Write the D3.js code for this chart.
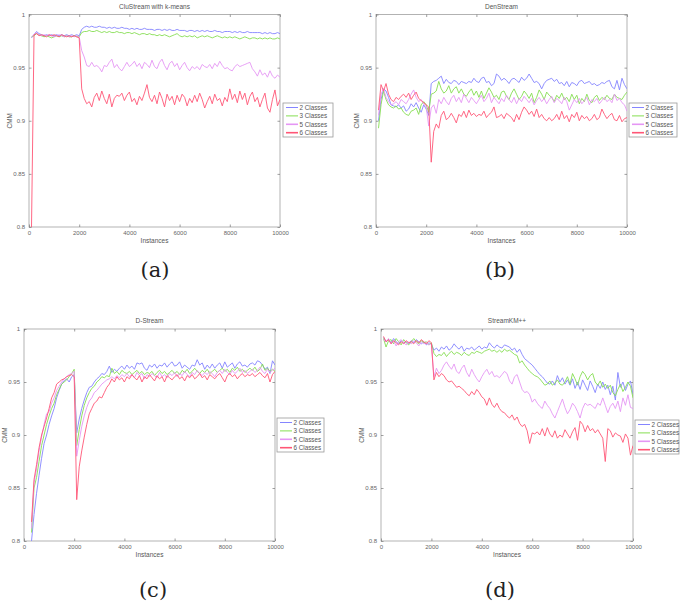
<!DOCTYPE html>
<html><head><meta charset="utf-8">
<script src="https://cdn.jsdelivr.net/npm/d3@7"></script>
<style>
html,body{margin:0;padding:0;background:#fff;}
svg{display:block;}
</style></head>
<body>
<svg id="chart" width="685" height="602"></svg>
<script>
// ---------- DATA ----------
const seriesNames = ["2 Classes", "3 Classes", "5 Classes", "6 Classes"];
const xTicks = [0, 2000, 4000, 6000, 8000, 10000];
const yTicks = [0.8, 0.85, 0.9, 0.95, 1];
const yTickLabels = ["0.8", "0.85", "0.9", "0.95", "1"];
const panelTitles = ["CluStream with k-means", "DenStream", "D-Stream", "StreamKM++"];
const panelCaptions = ["(a)", "(b)", "(c)", "(d)"];
const panelStart = [100, 100, 300, 100]; // first instance of each panel's series
const step = 100;

// (a) CluStream with k-means
const a2 = [0.978,0.981,0.984,0.982,0.981,0.980,0.981,0.980,0.981,0.980,
 0.981,0.980,0.981,0.980,0.981,0.980,0.981,0.980,0.981,0.980,
 0.986,0.988,0.989,0.988,0.989,0.988,0.988,0.989,0.988,0.988,
 0.987,0.988,0.987,0.988,0.987,0.987,0.988,0.987,0.987,0.986,
 0.987,0.986,0.987,0.986,0.986,0.987,0.986,0.986,0.986,0.985,
 0.986,0.986,0.985,0.986,0.985,0.986,0.985,0.985,0.986,0.985,
 0.985,0.985,0.984,0.985,0.985,0.984,0.985,0.984,0.985,0.984,
 0.985,0.984,0.984,0.985,0.984,0.984,0.983,0.984,0.984,0.984,
 0.983,0.984,0.983,0.984,0.983,0.983,0.984,0.983,0.983,0.983,
 0.983,0.983,0.982,0.983,0.982,0.983,0.982,0.982,0.983,0.982];
const a3 = [0.979,0.980,0.982,0.981,0.980,0.979,0.980,0.979,0.978,0.979,
 0.980,0.979,0.980,0.979,0.980,0.979,0.979,0.980,0.979,0.979,
 0.983,0.984,0.984,0.985,0.984,0.984,0.985,0.984,0.983,0.984,
 0.983,0.984,0.983,0.983,0.984,0.983,0.983,0.982,0.983,0.983,
 0.982,0.983,0.982,0.981,0.982,0.982,0.981,0.982,0.981,0.981,
 0.980,0.981,0.980,0.981,0.980,0.979,0.980,0.981,0.982,0.980,
 0.979,0.980,0.979,0.980,0.979,0.980,0.978,0.979,0.980,0.979,
 0.980,0.979,0.978,0.979,0.980,0.979,0.978,0.979,0.978,0.979,
 0.978,0.979,0.978,0.977,0.978,0.979,0.978,0.977,0.978,0.978,
 0.977,0.978,0.977,0.978,0.977,0.978,0.977,0.977,0.978,0.977];
const a5 = [0.979,0.981,0.983,0.981,0.980,0.981,0.980,0.981,0.980,0.979,
 0.980,0.981,0.980,0.979,0.980,0.979,0.980,0.979,0.980,0.979,
 0.966,0.960,0.952,0.951,0.955,0.951,0.952,0.950,0.946,0.952,
 0.951,0.955,0.958,0.950,0.953,0.949,0.947,0.951,0.955,0.951,
 0.953,0.956,0.951,0.954,0.949,0.955,0.953,0.950,0.957,0.951,
 0.949,0.955,0.958,0.952,0.948,0.954,0.956,0.951,0.954,0.948,
 0.952,0.955,0.950,0.947,0.951,0.949,0.951,0.948,0.953,0.951,
 0.950,0.953,0.949,0.954,0.951,0.956,0.952,0.949,0.950,0.948,
 0.947,0.951,0.953,0.951,0.952,0.953,0.954,0.955,0.949,0.946,
 0.942,0.948,0.943,0.945,0.941,0.947,0.942,0.940,0.943,0.941];
const a6 = [0.800,0.981,0.982,0.980,0.981,0.980,0.979,0.981,0.980,0.981,
 0.980,0.979,0.981,0.980,0.979,0.980,0.979,0.980,0.979,0.978,
 0.930,0.921,0.916,0.918,0.913,0.922,0.926,0.919,0.928,0.921,
 0.916,0.925,0.913,0.921,0.924,0.923,0.926,0.919,0.924,0.927,
 0.918,0.921,0.915,0.923,0.919,0.926,0.934,0.922,0.918,0.924,
 0.916,0.927,0.921,0.913,0.925,0.919,0.923,0.915,0.924,0.918,
 0.925,0.922,0.914,0.921,0.917,0.924,0.918,0.926,0.920,0.912,
 0.918,0.923,0.916,0.925,0.919,0.921,0.914,0.922,0.918,0.930,
 0.920,0.925,0.917,0.928,0.920,0.926,0.915,0.923,0.927,0.918,
 0.922,0.913,0.920,0.926,0.912,0.908,0.920,0.929,0.914,0.920];

// (b) DenStream
const b2 = [0.900,0.920,0.930,0.928,0.922,0.915,0.914,0.913,0.915,0.912,
 0.914,0.909,0.911,0.916,0.913,0.917,0.912,0.908,0.915,0.911,
 0.905,0.935,0.937,0.938,0.940,0.942,0.935,0.939,0.936,0.935,
 0.938,0.937,0.934,0.937,0.936,0.935,0.937,0.936,0.940,0.937,
 0.936,0.940,0.941,0.936,0.937,0.933,0.935,0.944,0.942,0.938,
 0.940,0.938,0.935,0.939,0.940,0.938,0.936,0.941,0.938,0.940,
 0.944,0.940,0.936,0.937,0.935,0.930,0.935,0.938,0.939,0.940,
 0.937,0.939,0.935,0.936,0.933,0.937,0.932,0.936,0.935,0.933,
 0.937,0.938,0.935,0.936,0.937,0.934,0.935,0.933,0.934,0.936,
 0.935,0.937,0.938,0.932,0.930,0.938,0.929,0.940,0.934,0.930];
const b3 = [0.893,0.915,0.928,0.920,0.915,0.913,0.912,0.914,0.911,0.912,
 0.908,0.906,0.905,0.909,0.910,0.912,0.906,0.915,0.918,0.915,
 0.908,0.925,0.926,0.928,0.937,0.930,0.926,0.928,0.933,0.926,
 0.930,0.932,0.926,0.930,0.925,0.923,0.927,0.930,0.924,0.928,
 0.922,0.928,0.921,0.926,0.931,0.927,0.922,0.924,0.920,0.927,
 0.928,0.923,0.920,0.926,0.930,0.925,0.920,0.923,0.928,0.925,
 0.921,0.926,0.917,0.922,0.929,0.925,0.920,0.927,0.924,0.922,
 0.918,0.924,0.921,0.926,0.920,0.922,0.918,0.925,0.920,0.924,
 0.916,0.921,0.918,0.925,0.919,0.917,0.922,0.924,0.919,0.922,
 0.920,0.924,0.921,0.920,0.925,0.922,0.921,0.920,0.924,0.927];
const b5 = [0.905,0.925,0.930,0.922,0.918,0.915,0.916,0.918,0.915,0.920,
 0.918,0.916,0.920,0.925,0.929,0.922,0.918,0.920,0.916,0.913,
 0.895,0.912,0.915,0.907,0.920,0.916,0.922,0.918,0.915,0.921,
 0.924,0.918,0.922,0.917,0.925,0.921,0.917,0.922,0.919,0.916,
 0.920,0.924,0.918,0.921,0.926,0.917,0.922,0.919,0.916,0.921,
 0.918,0.924,0.920,0.917,0.922,0.916,0.921,0.918,0.923,0.920,
 0.917,0.921,0.915,0.919,0.922,0.918,0.921,0.916,0.920,0.923,
 0.917,0.921,0.919,0.916,0.922,0.918,0.910,0.915,0.920,0.917,
 0.921,0.916,0.919,0.922,0.915,0.920,0.918,0.921,0.916,0.919,
 0.922,0.918,0.920,0.917,0.925,0.919,0.921,0.917,0.915,0.909];
const b6 = [0.910,0.934,0.928,0.935,0.925,0.920,0.918,0.922,0.920,0.923,
 0.925,0.922,0.926,0.920,0.924,0.927,0.921,0.919,0.917,0.915,
 0.913,0.861,0.890,0.897,0.893,0.905,0.909,0.901,0.903,0.907,
 0.903,0.898,0.906,0.904,0.909,0.903,0.910,0.905,0.907,0.904,
 0.906,0.905,0.909,0.903,0.906,0.908,0.913,0.903,0.904,0.906,
 0.902,0.907,0.905,0.903,0.899,0.906,0.901,0.908,0.913,0.910,
 0.906,0.909,0.904,0.911,0.903,0.906,0.902,0.900,0.903,0.900,
 0.902,0.906,0.901,0.909,0.902,0.905,0.899,0.906,0.903,0.908,
 0.900,0.905,0.902,0.904,0.900,0.902,0.906,0.901,0.903,0.911,
 0.906,0.902,0.905,0.907,0.901,0.900,0.905,0.899,0.902,0.903];

// (c) D-Stream (starts at 300)
const c2 = [0.800,0.825,0.845,0.862,0.878,0.892,0.900,0.910,
 0.918,0.925,0.935,0.942,0.948,0.951,0.953,0.950,0.955,0.957,
 0.902,0.915,0.925,0.933,0.940,0.945,0.946,0.950,0.953,0.955,
 0.958,0.957,0.960,0.965,0.959,0.962,0.960,0.963,0.965,0.962,
 0.966,0.963,0.965,0.962,0.968,0.967,0.968,0.963,0.961,0.966,
 0.964,0.967,0.963,0.966,0.965,0.968,0.964,0.967,0.969,0.965,
 0.966,0.969,0.963,0.966,0.964,0.962,0.966,0.965,0.971,0.966,
 0.968,0.962,0.966,0.963,0.967,0.963,0.966,0.968,0.963,0.969,
 0.964,0.966,0.968,0.963,0.967,0.969,0.965,0.966,0.964,0.967,
 0.968,0.966,0.970,0.969,0.966,0.962,0.964,0.958,0.970,0.966];
const c3 = [0.808,0.850,0.860,0.875,0.890,0.900,0.910,0.918,
 0.925,0.930,0.938,0.943,0.948,0.950,0.952,0.955,0.958,0.962,
 0.890,0.905,0.918,0.928,0.935,0.940,0.944,0.946,0.950,0.952,
 0.955,0.954,0.956,0.955,0.963,0.958,0.960,0.957,0.961,0.959,
 0.958,0.960,0.957,0.959,0.961,0.958,0.960,0.957,0.959,0.958,
 0.960,0.956,0.959,0.961,0.958,0.960,0.957,0.959,0.961,0.958,
 0.960,0.957,0.961,0.959,0.962,0.958,0.960,0.963,0.960,0.958,
 0.961,0.959,0.962,0.958,0.960,0.962,0.959,0.961,0.963,0.960,
 0.962,0.959,0.963,0.961,0.964,0.960,0.962,0.959,0.961,0.963,
 0.961,0.964,0.960,0.962,0.967,0.961,0.963,0.960,0.962,0.960];
const c5 = [0.812,0.855,0.868,0.885,0.898,0.910,0.920,0.922,
 0.930,0.935,0.942,0.946,0.950,0.953,0.955,0.957,0.958,0.960,
 0.880,0.895,0.908,0.918,0.926,0.932,0.935,0.940,0.942,0.945,
 0.948,0.950,0.952,0.953,0.955,0.953,0.956,0.954,0.957,0.955,
 0.958,0.955,0.957,0.954,0.959,0.956,0.958,0.953,0.957,0.955,
 0.958,0.956,0.954,0.959,0.955,0.957,0.954,0.958,0.956,0.959,
 0.955,0.958,0.956,0.960,0.957,0.955,0.959,0.957,0.961,0.958,
 0.956,0.959,0.957,0.960,0.958,0.955,0.959,0.961,0.958,0.962,
 0.959,0.957,0.961,0.958,0.960,0.963,0.959,0.961,0.958,0.960,
 0.962,0.959,0.961,0.964,0.960,0.958,0.962,0.959,0.961,0.963];
const c6 = [0.818,0.858,0.872,0.888,0.900,0.908,0.916,0.925,
 0.935,0.940,0.948,0.950,0.952,0.953,0.955,0.956,0.957,0.955,
 0.839,0.870,0.885,0.898,0.910,0.920,0.925,0.930,0.932,0.936,
 0.935,0.940,0.945,0.948,0.953,0.950,0.955,0.952,0.954,0.950,
 0.955,0.953,0.957,0.954,0.952,0.956,0.950,0.955,0.953,0.957,
 0.954,0.951,0.956,0.953,0.955,0.950,0.956,0.954,0.952,0.955,
 0.957,0.953,0.955,0.951,0.956,0.954,0.957,0.953,0.955,0.958,
 0.954,0.956,0.952,0.957,0.955,0.953,0.956,0.958,0.954,0.950,
 0.956,0.958,0.955,0.957,0.953,0.956,0.958,0.955,0.957,0.956,
 0.958,0.955,0.957,0.959,0.956,0.954,0.958,0.950,0.957,0.960];

// (d) StreamKM++
const d2 = [0.992,0.988,0.990,0.987,0.991,0.988,0.986,0.989,0.987,0.988,
 0.986,0.989,0.987,0.990,0.988,0.986,0.988,0.985,0.987,0.986,
 0.980,0.982,0.979,0.983,0.981,0.984,0.980,0.982,0.986,0.983,
 0.981,0.984,0.979,0.982,0.981,0.983,0.980,0.982,0.984,0.981,
 0.983,0.982,0.987,0.984,0.982,0.985,0.983,0.982,0.985,0.984,
 0.983,0.980,0.982,0.978,0.981,0.976,0.972,0.970,0.968,0.966,
 0.963,0.960,0.957,0.955,0.952,0.949,0.948,0.951,0.947,0.956,
 0.950,0.954,0.948,0.952,0.947,0.953,0.944,0.950,0.943,0.952,
 0.947,0.942,0.951,0.946,0.940,0.948,0.944,0.950,0.943,0.947,
 0.938,0.946,0.933,0.959,0.945,0.950,0.942,0.948,0.951,0.938];
const d3v = [0.991,0.983,0.989,0.990,0.986,0.991,0.988,0.985,0.990,0.987,
 0.985,0.988,0.991,0.988,0.986,0.989,0.987,0.988,0.985,0.987,
 0.977,0.974,0.976,0.975,0.978,0.974,0.977,0.979,0.976,0.978,
 0.977,0.975,0.978,0.976,0.975,0.978,0.977,0.979,0.978,0.977,
 0.979,0.980,0.981,0.979,0.980,0.978,0.980,0.978,0.981,0.979,
 0.980,0.978,0.976,0.975,0.968,0.970,0.966,0.963,0.960,0.958,
 0.956,0.955,0.953,0.950,0.947,0.948,0.951,0.947,0.949,0.952,
 0.948,0.947,0.950,0.955,0.948,0.958,0.953,0.947,0.955,0.960,
 0.957,0.952,0.956,0.958,0.950,0.947,0.951,0.945,0.948,0.944,
 0.947,0.940,0.937,0.943,0.948,0.941,0.945,0.950,0.946,0.935];
const d5 = [0.990,0.988,0.991,0.986,0.989,0.984,0.988,0.990,0.987,0.985,
 0.988,0.986,0.989,0.987,0.984,0.988,0.986,0.987,0.985,0.986,
 0.955,0.963,0.958,0.961,0.966,0.969,0.965,0.962,0.967,0.960,
 0.958,0.963,0.966,0.959,0.955,0.962,0.957,0.953,0.950,0.955,
 0.959,0.962,0.957,0.960,0.955,0.956,0.954,0.957,0.960,0.958,
 0.951,0.948,0.955,0.957,0.950,0.943,0.940,0.941,0.938,0.931,
 0.934,0.930,0.927,0.925,0.932,0.928,0.925,0.920,0.916,0.922,
 0.928,0.934,0.926,0.920,0.924,0.930,0.927,0.922,0.916,0.925,
 0.930,0.928,0.929,0.927,0.925,0.930,0.928,0.935,0.928,0.921,
 0.927,0.930,0.925,0.932,0.922,0.935,0.928,0.938,0.926,0.925];
const d6 = [0.993,0.988,0.990,0.986,0.989,0.987,0.985,0.988,0.986,0.989,
 0.987,0.988,0.986,0.989,0.987,0.990,0.988,0.986,0.989,0.987,
 0.952,0.959,0.955,0.958,0.956,0.952,0.950,0.951,0.948,0.945,
 0.946,0.944,0.942,0.939,0.937,0.941,0.938,0.943,0.940,0.936,
 0.934,0.928,0.935,0.929,0.926,0.930,0.925,0.922,0.921,0.918,
 0.916,0.919,0.914,0.917,0.911,0.908,0.910,0.904,0.892,0.902,
 0.901,0.903,0.900,0.906,0.899,0.907,0.901,0.898,0.904,0.897,
 0.900,0.898,0.905,0.901,0.897,0.903,0.907,0.895,0.913,0.910,
 0.903,0.909,0.904,0.906,0.902,0.905,0.901,0.897,0.875,0.906,
 0.904,0.898,0.902,0.900,0.899,0.893,0.901,0.897,0.881,0.890];

const panelSeries = [[a2,a3,a5,a6],[b2,b3,b5,b6],[c2,c3,c5,c6],[d2,d3v,d5,d6]];

// ---------- STYLE / LAYOUT ----------
const colors = ["#8585ff", "#86de52", "#e596f4", "#ff5676"];
const legendWidths = [1, 1, 1.6, 1.6];
const layouts = [
  {l:29,  r:280, t:14.5, b:227, lx:283, ly:103, lw:50, cx:155, cy:277},
  {l:376, r:627, t:14.5, b:227, lx:629, ly:103, lw:48, cx:500, cy:277},
  {l:24,  r:275, t:329,  b:541, lx:277, ly:418, lw:47, cx:153, cy:597},
  {l:381, r:633, t:329,  b:541, lx:635, ly:420, lw:44, cx:500, cy:597}
];
const FONT = "'Liberation Sans', Arial, sans-serif";
const svg = d3.select("#chart");

layouts.forEach((L, p) => {
  const x = d3.scaleLinear().domain([0, 10000]).range([L.l, L.r]);
  const y = d3.scaleLinear().domain([0.8, 1]).range([L.b, L.t]);
  const g = svg.append("g");
  const clipId = "clip" + p;
  g.append("clipPath").attr("id", clipId).append("rect")
    .attr("x", L.l).attr("y", L.t).attr("width", L.r - L.l).attr("height", L.b - L.t);

  // frame
  g.append("rect").attr("x", L.l).attr("y", L.t).attr("width", L.r - L.l).attr("height", L.b - L.t)
    .attr("fill", "none").attr("stroke", "#a0a0a0").attr("stroke-width", 0.8);

  // axes (ticks inward)
  const axB = d3.axisBottom(x).tickValues(xTicks).tickSize(-2.5).tickPadding(4).tickFormat(d3.format("d"));
  const axL = d3.axisLeft(y).tickValues(yTicks).tickSize(-2.5).tickPadding(4).tickFormat((d,i)=>yTickLabels[i]);
  const axT = d3.axisTop(x).tickValues(xTicks).tickSize(-2.5).tickFormat("");
  const axR = d3.axisRight(y).tickValues(yTicks).tickSize(-2.5).tickFormat("");
  [[axB, `translate(0,${L.b})`],[axL, `translate(${L.l},0)`],[axT, `translate(0,${L.t})`],[axR, `translate(${L.r},0)`]]
    .forEach(([ax, tr]) => {
      const a = g.append("g").attr("transform", tr).call(ax);
      a.select(".domain").remove();
      a.selectAll(".tick line").attr("stroke", "#777").attr("stroke-width", 0.7);
      a.selectAll(".tick text").attr("fill", "#666").attr("font-size", 6).attr("font-family", FONT);
    });

  // titles / labels
  g.append("text").attr("x", (L.l + L.r) / 2).attr("y", L.t - 6).attr("text-anchor", "middle")
    .attr("font-size", 6.5).attr("font-family", FONT).attr("fill", "#555").text(panelTitles[p]);
  g.append("text").attr("x", (L.l + L.r) / 2).attr("y", L.b + 16).attr("text-anchor", "middle")
    .attr("font-size", 6.5).attr("font-family", FONT).attr("fill", "#555").text("Instances");
  g.append("text").attr("transform", `translate(${L.l - 17},${(L.t + L.b) / 2}) rotate(-90)`)
    .attr("text-anchor", "middle").attr("font-size", 6.5).attr("font-family", FONT).attr("fill", "#555").text("CMM");

  // lines
  const line = d3.line().x((d, i) => x(panelStart[p] + i * step)).y(d => y(d));
  const lg = g.append("g").attr("clip-path", `url(#${clipId})`);
  panelSeries[p].forEach((vals, s) => {
    lg.append("path").datum(vals).attr("d", line).attr("fill", "none")
      .attr("stroke", colors[s]).attr("stroke-width", 0.9).attr("stroke-linejoin", "round");
  });

  // legend
  const leg = g.append("g").attr("transform", `translate(${L.lx},${L.ly})`);
  leg.append("rect").attr("width", L.lw).attr("height", 34).attr("fill", "#fff")
    .attr("stroke", "#999").attr("stroke-width", 0.8);
  seriesNames.forEach((nm, s) => {
    const yy = 4.5 + s * 8.4;
    leg.append("line").attr("x1", 3).attr("x2", 15).attr("y1", yy).attr("y2", yy)
      .attr("stroke", colors[s]).attr("stroke-width", legendWidths[s]);
    leg.append("text").attr("x", 16.5).attr("y", yy + 2.2).attr("font-size", 6.3)
      .attr("font-family", FONT).attr("fill", "#555").text(nm);
  });

  // caption
  svg.append("text").attr("x", L.cx).attr("y", L.cy).attr("text-anchor", "middle")
    .attr("font-size", 21).attr("font-family", "'DejaVu Serif', 'Liberation Serif', serif")
    .attr("fill", "#222").text(panelCaptions[p]);
});
</script>
</body></html>
